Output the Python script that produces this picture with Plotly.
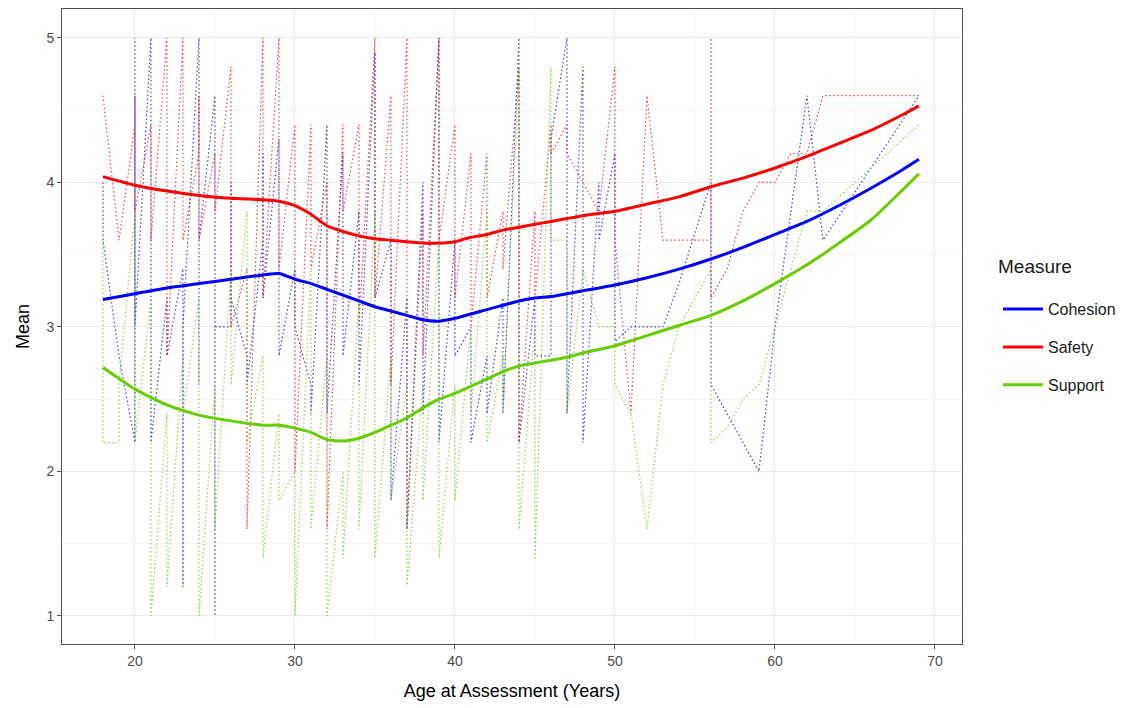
import plotly.graph_objects as go

# ---- raw observations (age, mean), in drawing order ----
cohesion_obs = [
    (18, 4.0), (18, 3.6), (19, 2.8), (20, 2.2), (20, 4.6), (20, 3.0),
    (21, 5.0), (21, 2.2), (22, 3.2), (22, 2.8), (23, 3.4), (23, 1.2), (23, 3.0),
    (24, 5.0), (24, 2.6), (24, 3.6), (25, 4.6), (25, 1.0), (25, 3.0),
    (26, 3.0), (26, 4.0), (26, 3.2), (27, 2.8), (27, 2.6), (28, 3.6), (28, 4.2), (28, 3.2),
    (29, 4.3), (29, 2.8), (30, 3.4), (30, 3.0), (31, 2.6), (31, 2.4), (32, 4.4), (32, 2.4),
    (33, 4.2), (33, 2.8), (34, 3.8), (34, 2.6), (35, 4.9), (35, 3.2), (36, 3.6), (36, 1.8),
    (37, 3.2), (37, 1.6), (38, 4.0), (38, 2.4), (39, 5.0), (39, 2.2), (40, 3.6), (40, 2.8),
    (41, 3.0), (41, 2.2), (42, 2.8), (42, 2.4), (43, 3.2), (43, 2.4), (44, 5.0), (44, 2.2),
    (45, 3.2), (45, 2.8), (46, 2.8), (46, 4.3), (47, 5.0), (47, 2.4), (48, 4.8), (48, 2.2),
    (49, 4.0), (49, 3.6), (50, 4.2), (50, 2.9), (51, 3.0), (52, 3.0), (53, 3.0), (54, 3.3),
    (55, 3.65), (56, 4.0), (56, 2.6), (57, 2.4), (58, 2.2), (59, 2.0), (60, 3.0), (61, 3.8),
    (62, 4.6), (63, 3.6), (69, 4.6),
]
safety_obs = [
    (18, 4.6), (19, 3.6), (20, 4.4), (20, 5.0), (20, 3.8), (21, 4.4), (21, 3.6),
    (22, 5.0), (22, 2.8), (23, 5.0), (23, 3.6), (24, 4.2), (24, 4.6), (24, 3.6),
    (25, 4.2), (25, 3.8), (26, 4.8), (26, 3.0), (27, 3.4), (27, 1.6), (28, 5.0), (28, 3.2),
    (29, 5.0), (29, 4.2), (29, 3.4), (30, 4.4), (30, 2.0), (31, 4.4), (31, 3.4),
    (32, 4.0), (32, 1.6), (33, 4.4), (33, 3.8), (34, 4.4), (34, 3.0), (35, 5.0), (35, 3.2),
    (36, 4.6), (36, 2.6), (37, 5.0), (37, 1.6), (38, 3.8), (38, 2.8), (39, 5.0), (39, 3.6),
    (40, 4.4), (40, 3.2), (41, 4.2), (41, 3.0), (42, 4.2), (42, 3.2), (43, 3.8), (43, 3.4),
    (44, 4.8), (44, 2.2), (45, 3.8), (45, 3.2), (46, 4.4), (46, 4.2), (47, 4.4), (47, 4.2),
    (48, 4.0), (49, 3.8), (50, 4.8), (50, 3.6), (51, 2.4), (52, 4.6), (53, 3.6), (54, 3.6),
    (55, 3.6), (56, 3.6), (56, 5.0), (56, 3.2), (57, 3.4), (58, 3.8), (59, 4.0), (60, 4.0),
    (61, 4.2), (62, 4.2), (63, 4.6), (69, 4.6),
]
support_obs = [
    (18, 3.6), (18, 2.2), (19, 2.2), (19, 2.6), (20, 3.8), (20, 2.2), (21, 3.2), (21, 1.0),
    (22, 2.4), (22, 1.2), (23, 2.8), (23, 2.4), (24, 3.2), (24, 1.0), (25, 2.6), (25, 1.6),
    (26, 3.4), (26, 2.6), (27, 3.8), (27, 2.2), (28, 2.8), (28, 1.4), (29, 2.4), (29, 1.8),
    (30, 2.0), (30, 1.0), (31, 3.4), (31, 1.6), (32, 2.8), (32, 1.0), (33, 2.0), (33, 1.4),
    (34, 3.2), (34, 1.6), (35, 3.8), (35, 1.4), (36, 2.8), (36, 1.8), (37, 2.6), (37, 1.2),
    (38, 2.6), (38, 1.8), (39, 3.6), (39, 1.4), (40, 2.6), (40, 1.8), (41, 3.0), (41, 2.4),
    (42, 3.8), (42, 2.2), (43, 2.8), (43, 2.4), (44, 4.8), (44, 1.6), (45, 3.0), (45, 1.4),
    (46, 4.8), (46, 3.6), (47, 3.6), (47, 2.4), (48, 3.4), (49, 3.0), (50, 3.0), (50, 2.6),
    (51, 2.4), (52, 1.6), (53, 2.6), (54, 3.0), (55, 3.2), (56, 3.4), (56, 2.2), (57, 2.3),
    (58, 2.5), (59, 2.6), (60, 3.0), (61, 3.4), (62, 3.8), (63, 3.8), (69, 4.4),
]

# ---- smoothed (loess) curves ----
fit_age = [18, 20, 22, 24, 26, 28, 29, 30, 31, 32, 33, 34, 35, 36, 37, 38, 39, 40, 41, 42,
           43, 44, 45, 46, 47, 48, 50, 52, 54, 56, 58, 60, 62, 64, 66, 68, 69]
cohesion_fit = [3.19, 3.23, 3.27, 3.30, 3.33, 3.36, 3.37, 3.33, 3.30, 3.26, 3.22, 3.18, 3.14,
                3.11, 3.08, 3.05, 3.04, 3.06, 3.09, 3.12, 3.15, 3.18, 3.20, 3.21, 3.23, 3.25,
                3.29, 3.34, 3.40, 3.47, 3.55, 3.64, 3.73, 3.84, 3.96, 4.09, 4.16]
safety_fit = [4.04, 3.98, 3.94, 3.91, 3.89, 3.88, 3.87, 3.84, 3.78, 3.70, 3.66, 3.63, 3.61,
              3.60, 3.59, 3.58, 3.58, 3.59, 3.62, 3.64, 3.67, 3.69, 3.71, 3.73, 3.75, 3.77,
              3.80, 3.85, 3.90, 3.97, 4.03, 4.10, 4.18, 4.27, 4.36, 4.47, 4.53]
support_fit = [2.72, 2.57, 2.46, 2.39, 2.35, 2.32, 2.32, 2.30, 2.27, 2.22, 2.21, 2.23, 2.27,
               2.32, 2.37, 2.44, 2.50, 2.54, 2.59, 2.64, 2.69, 2.73, 2.75, 2.77, 2.79, 2.82,
               2.87, 2.94, 3.01, 3.08, 3.18, 3.30, 3.43, 3.58, 3.74, 3.95, 4.06]

measures = ["Cohesion", "Safety", "Support"]
colors = {"Cohesion": "#0000FF", "Safety": "#FF0000", "Support": "#66CD00"}
obs = {"Cohesion": cohesion_obs, "Safety": safety_obs, "Support": support_obs}
fits = {"Cohesion": cohesion_fit, "Safety": safety_fit, "Support": support_fit}

FONT = "Liberation Sans, Arial"

fig = go.Figure()
for m in measures:
    xs = [a for a, v in obs[m]]
    ys = [v for a, v in obs[m]]
    fig.add_trace(go.Scatter(x=xs, y=ys, mode="lines", showlegend=False, opacity=0.75,
                             line=dict(color=colors[m], width=1.2, dash="1.5px,2.5px"),
                             hoverinfo="skip"))
for m in measures:
    fig.add_trace(go.Scatter(x=fit_age, y=fits[m], mode="lines", name=m, legendgroup=m,
                             line=dict(color=colors[m], width=3, shape="spline", smoothing=0.6)))

axis_common = dict(
    showline=True, linecolor="#4D4D4D", linewidth=1, mirror=True,
    ticks="outside", ticklen=4, tickcolor="#4D4D4D",
    tickfont=dict(family=FONT, size=14, color="#4D4D4D"),
    showgrid=True, gridcolor="#EBEBEB", gridwidth=1, zeroline=False,
)
fig.update_xaxes(**axis_common, range=[15.44, 71.69], tickvals=[20, 30, 40, 50, 60, 70],
                 minor=dict(tickvals=[25, 35, 45, 55, 65], showgrid=True,
                            gridcolor="#F4F4F4", gridwidth=1, ticks=""),
                 title=dict(text="Age at Assessment (Years)", standoff=16,
                            font=dict(family=FONT, size=18, color="#000000")))
fig.update_yaxes(**axis_common, range=[0.806, 5.2], tickvals=[1, 2, 3, 4, 5],
                 minor=dict(tickvals=[1.5, 2.5, 3.5, 4.5], showgrid=True,
                            gridcolor="#F4F4F4", gridwidth=1, ticks=""),
                 title=dict(text="Mean", standoff=12,
                            font=dict(family=FONT, size=18, color="#000000")))

# page has an 8px body margin, so margins are shifted accordingly
fig.update_layout(
    width=1144, height=708,
    margin=dict(l=54, r=190, t=1, b=72),
    paper_bgcolor="white", plot_bgcolor="white",
    font=dict(family=FONT, color="#000000"),
    legend=dict(font=dict(size=16, color="#1A1A1A"),
                x=1.04, xanchor="left", y=0.554, yanchor="top",
                itemwidth=40, tracegroupgap=14, bgcolor="rgba(0,0,0,0)"),
    annotations=[dict(text="Measure", xref="paper", yref="paper", x=1.038, y=0.594,
                      xanchor="left", yanchor="middle", showarrow=False,
                      font=dict(family=FONT, size=19, color="#1A1A1A"))],
)

fig.write_html("out.html")
